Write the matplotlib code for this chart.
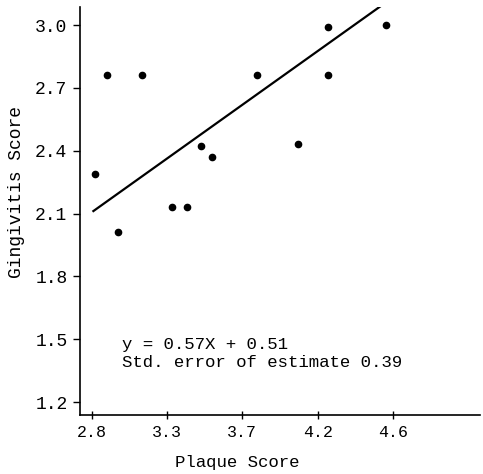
import numpy as np
import matplotlib
matplotlib.use('Agg')
import matplotlib.pyplot as plt

# plaque vs gingivitis scores
plaque = [2.82, 2.89, 3.10, 2.96, 3.28, 3.37, 3.45, 3.52, 3.79, 4.03, 4.21, 4.21, 4.56]
gingivitis = [2.29, 2.76, 2.76, 2.01, 2.13, 2.13, 2.42, 2.37, 2.76, 2.43, 2.99, 2.76, 3.00]

# regression line y = 0.57X + 0.51
slope = 0.57
intercept = 0.51
fit_range = [2.81, 4.55]

# x ticks are evenly spaced, labels rounded as printed
xtick_pos = [2.8, 3.25, 3.7, 4.15, 4.6]
xtick_labels = ['2.8', '3.3', '3.7', '4.2', '4.6']
ytick_pos = [1.2, 1.5, 1.8, 2.1, 2.4, 2.7, 3.0]
ytick_labels = ['1.2', '1.5', '1.8', '2.1', '2.4', '2.7', '3.0']

plt.rcParams['font.family'] = ['Liberation Mono', 'DejaVu Sans Mono']

def main():
    fig = plt.figure(figsize=(4.83, 4.74), dpi=100)
    ax = fig.add_axes([80/483, 1 - 415/474, 400/483, 408/474])

    ax.plot(plaque, gingivitis, 'o', color='black', markersize=4.5)
    xs = np.array(fit_range)
    ax.plot(xs, slope * xs + intercept, color='black', linewidth=1.6)

    ax.set_xlim(2.73, 5.12)
    ax.set_ylim(1.138, 3.086)
    ax.spines['top'].set_visible(False)
    ax.spines['right'].set_visible(False)
    ax.spines['left'].set_linewidth(1.2)
    ax.spines['bottom'].set_linewidth(1.2)

    ax.set_xticks(xtick_pos)
    ax.set_xticklabels(xtick_labels, fontsize=12)
    ax.set_yticks(ytick_pos)
    ax.set_yticklabels(ytick_labels, fontsize=13)
    ax.tick_params(axis='x', direction='inout', length=6, width=1, pad=4)
    ax.tick_params(axis='y', direction='out', length=5, width=1, pad=4)

    ax.text(2.98, 1.434, 'y = 0.57X + 0.51\nStd. error of estimate 0.39',
            fontsize=12.5, ha='left', va='center', linespacing=1.25)

    fig.text(17/483, 1 - 192/474, 'Gingivitis Score', rotation=90,
             ha='center', va='center', fontsize=13)
    fig.text(237/483, 1 - 463/474, 'Plaque Score', ha='center', va='center', fontsize=12.5)

    fig.savefig('out.png', dpi=100)

if __name__ == "__main__":
    main()
